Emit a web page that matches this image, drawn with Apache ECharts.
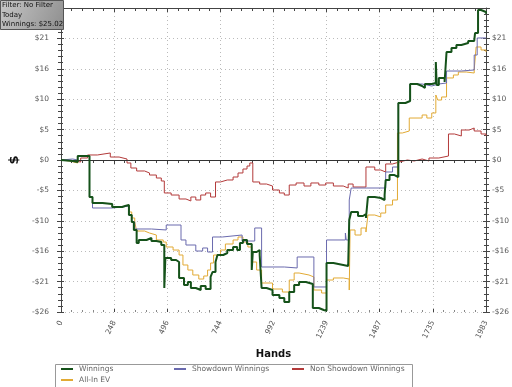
<!DOCTYPE html>
<html><head><meta charset="utf-8">
<script src="https://cdn.jsdelivr.net/npm/echarts@6/dist/echarts.min.js"></script>
<style>html,body{margin:0;padding:0;background:#fff}#c{width:512px;height:387px}</style>
</head><body><div id="c"></div>
<script>
// ---- data: [hand, dollars] ----
const seriesNames = ['Winnings', 'Showdown Winnings', 'Non Showdown Winnings', 'All-In EV'];
const handsMax = 1983;
const dollarTicks = { min: -26, max: 26, step: 5.2 };

const winnings = [[0,0],[9,-0.17],[55,-0.34],[78,0.68],[133,-6.33],[147,-7.36],[193,-7.53],[239,-8.04],[285,-7.87],[299,-7.70],[317,-9.41],[330,-10.61],[340,-11.97],[353,-14.20],[363,-13.68],[399,-13.34],[422,-13.86],[445,-14.03],[468,-14.54],[482,-21.90],[487,-16.76],[514,-17.11],[537,-17.45],[551,-20.18],[574,-21.38],[592,-20.87],[606,-21.90],[629,-22.24],[652,-21.55],[675,-22.07],[698,-20.01],[707,-19.16],[721,-17.45],[730,-16.25],[757,-15.91],[776,-15.40],[803,-14.88],[822,-15.40],[835,-14.20],[849,-13.68],[868,-14.37],[890,-18.82],[895,-15.74],[913,-15.40],[927,-16.25],[936,-21.90],[959,-22.24],[987,-23.09],[1019,-23.61],[1042,-24.29],[1065,-22.58],[1088,-21.38],[1111,-20.87],[1143,-21.21],[1175,-25.32],[1203,-25.66],[1226,-25.8],[1239,-17.62],[1271,-17.96],[1317,-18.13],[1340,-17.96],[1345,-10.26],[1354,-8.89],[1386,-9.58],[1409,-9.24],[1423,-9.92],[1432,-6.33],[1464,-6.50],[1492,-6.84],[1510,-5.99],[1515,-3.42],[1533,-2.57],[1556,-2.91],[1574,9.75],[1607,10.09],[1629,13.00],[1662,12.66],[1685,12.32],[1698,13.00],[1730,13.17],[1749,16.76],[1753,12.83],[1763,14.03],[1790,13.34],[1799,18.47],[1822,19.16],[1845,19.67],[1868,20.01],[1900,20.36],[1928,20.53],[1932,21.72],[1946,25.66],[1960,25.32],[1983,25.02]];

const showdown = [[0,0],[9,0.17],[55,0],[78,0.68],[133,-6.33],[147,-8.21],[239,-8.04],[285,-7.87],[317,-9.41],[330,-10.61],[344,-11.80],[422,-11.97],[491,-11.12],[560,-13.68],[583,-14.54],[629,-15.57],[661,-15.05],[684,-15.74],[707,-13.17],[753,-12.83],[845,-13.86],[904,-11.63],[936,-18.30],[1042,-18.47],[1102,-16.59],[1180,-21.72],[1239,-13.68],[1327,-12.49],[1331,-13.68],[1345,-6.84],[1354,-4.79],[1515,-2.05],[1547,-1.20],[1574,9.75],[1607,10.09],[1629,13.00],[1685,12.66],[1730,13.00],[1763,13.17],[1799,15.22],[1868,15.40],[1928,17.96],[1942,20.87],[1983,20.87]];

const nonShowdown = [[0,0],[32,-0.34],[92,0.34],[124,0.86],[170,1.20],[230,0.51],[271,0.17],[308,-0.51],[326,-1.37],[353,-1.88],[390,-2.22],[413,-2.57],[445,-3.08],[468,-3.59],[482,-5.64],[514,-5.99],[551,-6.67],[583,-7.01],[606,-6.33],[629,-6.84],[652,-5.99],[675,-5.64],[698,-6.33],[721,-3.76],[744,-3.42],[776,-3.42],[803,-2.91],[826,-2.22],[849,-1.54],[868,-1.03],[881,-0.51],[895,-3.76],[927,-4.11],[959,-4.45],[987,-5.13],[1019,-5.64],[1042,-5.99],[1065,-4.28],[1097,-3.93],[1134,-4.45],[1166,-3.93],[1203,-4.28],[1235,-3.93],[1271,-4.45],[1317,-4.79],[1340,-4.11],[1363,-4.62],[1423,-1.20],[1464,-1.71],[1492,-2.05],[1515,-0.68],[1547,-0.34],[1579,0],[1616,-0.17],[1648,0.17],[1685,-0.17],[1717,0.34],[1763,0.68],[1808,4.45],[1836,4.11],[1868,5.13],[1905,5.47],[1928,4.96],[1960,4.45],[1983,4.11]];

const allInEV = [[0,0],[9,-0.17],[41,-0.51],[78,0.68],[133,-6.33],[147,-7.36],[193,-7.53],[239,-8.04],[285,-7.87],[299,-7.70],[317,-8.89],[330,-9.92],[344,-10.61],[353,-12.15],[390,-12.49],[413,-12.83],[445,-13.68],[477,-14.03],[491,-14.88],[523,-15.40],[551,-16.25],[569,-17.96],[592,-18.82],[615,-19.67],[643,-20.36],[666,-19.84],[684,-18.82],[698,-17.62],[712,-16.25],[744,-15.40],[767,-14.37],[803,-13.68],[826,-13.17],[849,-14.03],[872,-14.88],[890,-17.45],[913,-18.82],[936,-21.04],[987,-22.07],[1033,-22.58],[1065,-20.53],[1088,-19.33],[1111,-19.67],[1157,-20.01],[1180,-22.24],[1216,-22.75],[1239,-20.53],[1271,-20.18],[1317,-20.36],[1345,-22.24],[1349,-11.97],[1372,-12.83],[1400,-11.63],[1423,-12.32],[1432,-9.41],[1464,-9.75],[1492,-9.07],[1515,-7.70],[1547,-6.84],[1570,4.62],[1593,4.96],[1625,7.18],[1685,7.70],[1707,7.18],[1730,8.04],[1749,11.12],[1758,10.26],[1776,10.78],[1799,14.03],[1831,14.54],[1854,15.05],[1891,14.88],[1928,15.40],[1937,19.33],[1960,18.82],[1983,18.47]];

const filterLines = ['Filter: No Filter', 'Today', 'Winnings: $25.02'];

// ---- chart ----
const colors = { win: '#15521a', sd: '#6a6aae', nsd: '#b33a3a', ev: '#e2aa34' };
const labelFont = { fontFamily: 'DejaVu Sans', fontSize: 7.5, color: '#555' };
const fmtDollar = v => { const r = Math.round(v); return r === 0 ? '$0' : (r < 0 ? '-$' + (-r) : '$' + r); };
const gridLine = { show: true, lineStyle: { color: '#bbb', type: [1, 3], width: 1 } };
const xInterval = handsMax / 8;

const chart = echarts.init(document.getElementById('c'), null, { renderer: 'canvas' });
const commonX = { type: 'value', min: 0, max: handsMax, interval: xInterval, gridIndex: 0 };
const commonY = { type: 'value', min: dollarTicks.min, max: dollarTicks.max, interval: dollarTicks.step };

function lineSeries(name, data, color, width, z) {
  return { name, type: 'line', data, step: 'end', showSymbol: false, symbol: 'none',
    lineStyle: { color, width }, itemStyle: { color }, z, animation: false };
}

chart.setOption({
  animation: false,
  backgroundColor: '#fff',
  grid: { left: 53, right: 26, top: 8, bottom: 75, containLabel: false },
  xAxis: [
    Object.assign({}, commonX, {
      position: 'bottom', name: 'Hands', nameLocation: 'middle', nameGap: 37,
      nameTextStyle: { fontFamily: 'DejaVu Sans', fontWeight: 'bold', fontSize: 10, color: '#111' },
      axisLine: { show: true, lineStyle: { color: '#444' } },
      axisTick: { show: true, length: 4, lineStyle: { color: '#444' } },
      minorTick: { show: true, splitNumber: 5, length: 3, lineStyle: { color: '#444' } },
      axisLabel: Object.assign({ rotate: 65, margin: 9, formatter: v => String(Math.round(v)) }, labelFont),
      splitLine: gridLine
    }),
    Object.assign({}, commonX, {
      position: 'top',
      axisLine: { show: true, onZero: false, lineStyle: { color: '#444' } },
      axisTick: { show: true, inside: true, length: 4, lineStyle: { color: '#444' } },
      minorTick: { show: true, splitNumber: 5, length: 3, lineStyle: { color: '#444' } },
      axisLabel: { show: false }, splitLine: { show: false }
    }),
    Object.assign({}, commonX, {
      position: 'bottom',
      axisLine: { show: false, onZero: false },
      axisTick: { show: true, inside: true, length: 3, lineStyle: { color: '#444' } },
      minorTick: { show: true, splitNumber: 5, length: 2, lineStyle: { color: '#888' } },
      axisLabel: { show: false }, splitLine: { show: false }
    })
  ],
  yAxis: [
    Object.assign({}, commonY, {
      position: 'left', name: '$', nameLocation: 'middle', nameGap: 40, nameRotate: 90,
      nameTextStyle: { fontFamily: 'DejaVu Sans', fontWeight: 'bold', fontSize: 13, color: '#111' },
      axisLine: { show: true, onZero: false, lineStyle: { color: '#444' } },
      axisTick: { show: true, length: 4, lineStyle: { color: '#444' } },
      minorTick: { show: true, splitNumber: 5, length: 3, lineStyle: { color: '#444' } },
      axisLabel: Object.assign({ margin: 12, showMaxLabel: false, formatter: fmtDollar }, labelFont),
      splitLine: gridLine
    }),
    Object.assign({}, commonY, {
      position: 'right',
      axisLine: { show: true, onZero: false, lineStyle: { color: '#444' } },
      axisTick: { show: true, length: 4, lineStyle: { color: '#444' } },
      minorTick: { show: true, splitNumber: 5, length: 3, lineStyle: { color: '#444' } },
      axisLabel: Object.assign({ margin: 6, showMaxLabel: false, formatter: fmtDollar }, labelFont),
      splitLine: { show: false }
    }),
    Object.assign({}, commonY, {
      position: 'left', offset: 0,
      axisLine: { show: false, onZero: false },
      axisTick: { show: true, inside: true, length: 3, lineStyle: { color: '#444' } },
      minorTick: { show: true, splitNumber: 5, length: 2, lineStyle: { color: '#444' } },
      axisLabel: { show: false }, splitLine: { show: false }
    }),
    Object.assign({}, commonY, {
      position: 'right', offset: 0,
      axisLine: { show: false, onZero: false },
      axisTick: { show: true, inside: true, length: 3, lineStyle: { color: '#444' } },
      minorTick: { show: true, splitNumber: 5, length: 2, lineStyle: { color: '#444' } },
      axisLabel: { show: false }, splitLine: { show: false }
    })
  ],
  legend: [
    { data: [seriesNames[0]], left: 61, top: 365 },
    { data: [seriesNames[1]], left: 174, top: 365 },
    { data: [seriesNames[2]], left: 292, top: 365 },
    { data: [seriesNames[3]], left: 61, top: 376 }
  ].map(l => Object.assign({
    orient: 'horizontal', padding: 0, itemWidth: 12, itemHeight: 2, icon: 'rect',
    textStyle: { fontFamily: 'DejaVu Sans', fontSize: 7.5, color: '#666', padding: [0, 0, 0, 1] },
    selectedMode: false
  }, l)),
  graphic: [
    { type: 'rect', left: 53, top: 362, shape: { width: 357, height: 23 }, style: { fill: 'none', stroke: '#999', lineWidth: 1 }, z: 0 },
    { type: 'rect', left: 0, top: 0, z: 100,
      shape: { width: 63, height: 29 },
      style: { fill: new echarts.graphic.LinearGradient(0, 0, 1, 1, [{ offset: 0, color: '#c6c6c6' }, { offset: 1, color: '#8e8e8e' }]), stroke: '#555', lineWidth: 1 } },
    { type: 'text', left: 2, top: 1, z: 101,
      style: { text: filterLines.join('\n'), font: '7px "DejaVu Sans"', fill: '#111', lineHeight: 9.3 } }
  ],
  series: [
    lineSeries(seriesNames[3], allInEV, colors.ev, 1, 3),
    lineSeries(seriesNames[1], showdown, colors.sd, 1, 4),
    Object.assign(lineSeries(seriesNames[2], nonShowdown, colors.nsd, 1, 2), {
      markLine: { silent: true, symbol: 'none', label: { show: false },
        lineStyle: { color: '#333', type: 'solid', width: 1 }, data: [{ yAxis: 0 }], animation: false }
    }),
    lineSeries(seriesNames[0], winnings, colors.win, 2, 5)
  ]
});
</script></body></html>
